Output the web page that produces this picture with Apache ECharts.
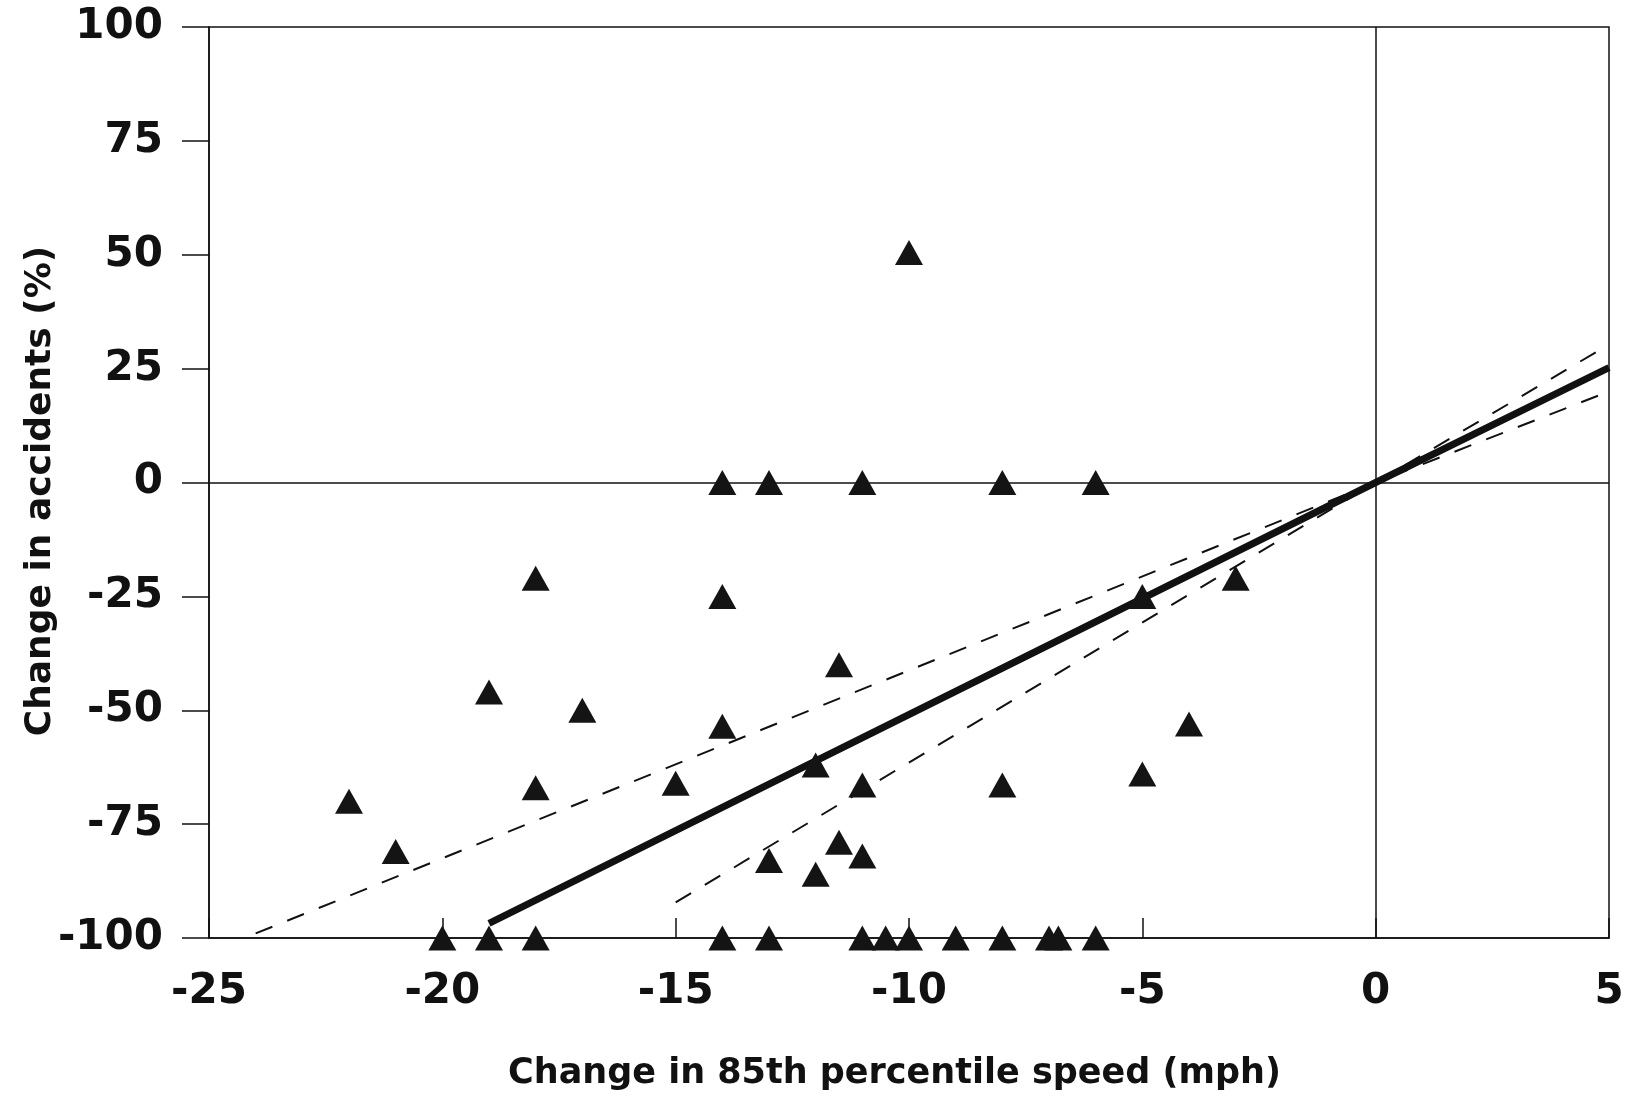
<!DOCTYPE html>
<html>
<head>
<meta charset="utf-8">
<title>Change in accidents vs change in 85th percentile speed</title>
<script src="https://cdn.jsdelivr.net/npm/echarts@6/dist/echarts.min.js"></script>
<style>
  html, body { margin: 0; padding: 0; background: #ffffff; }
  #chart { width: 1633px; height: 1098px; }
</style>
</head>
<body>
<div id="chart"></div>
<script>
// Observed sites: change in 85th percentile speed (mph) vs change in accidents (%)
const speedChange = [
    -14, -13, -11, -8, -6,
    -10,
    -18, -14, -5, -3,
    -11.5, -19, -17, -14, -4,
    -12, -5, -15, -18, -11, -8,
    -22, -11.5, -21, -11, -13, -12,
    -20, -19, -18, -14, -13, -11, -10.5, -10, -9, -8, -7, -6.8, -6
];
const accidentChange = [
    0, 0, 0, 0, 0,
    50.5,
    -21, -25, -25, -21,
    -40, -46, -50, -53.5, -53,
    -62, -64, -66, -67, -66.4, -66.4,
    -70, -79, -81, -82, -83, -86,
    -100, -100, -100, -100, -100, -100, -100, -100, -100, -100, -100, -100, -100
];

// Fitted line and its two bounds
const fitX = [-19, 0, 5];
const fitY = [-96.8, 0, 25.2];
const boundAX = [-24, 0, 5];
const boundAY = [-99, 0, 20];
const boundBX = [-15, 0, 5];
const boundBY = [-92.2, 0, 30.3];

// Axis ticks
const xTicks = [-25, -20, -15, -10, -5, 0, 5];
const yTicks = [-100, -75, -50, -25, 0, 25, 50, 75, 100];

const INK = '#111111';
const FONT = '"DejaVu Sans", "Liberation Sans", sans-serif';

function pairs(xs, ys) {
    return xs.map((x, i) => [x, ys[i]]);
}

const chart = echarts.init(document.getElementById('chart'));

const option = {
    backgroundColor: '#ffffff',
    animation: false,
    grid: {
        left: 209,
        right: 24,
        top: 27,
        bottom: 160,
        containLabel: false,
        outerBoundsMode: 'none',
        show: true,
        borderColor: INK,
        borderWidth: 1.5
    },
    xAxis: {
        type: 'value',
        min: xTicks[0],
        max: xTicks[xTicks.length - 1],
        interval: 5,
        name: 'Change in 85th percentile speed (mph)',
        nameLocation: 'middle',
        nameGap: 118,
        nameMoveOverlap: false,
        nameTextStyle: {
            color: INK,
            fontFamily: FONT,
            fontWeight: 'bold',
            fontSize: 35,
            padding: [0, 29, 0, 0]
        },
        axisLine: { show: true, onZero: false, lineStyle: { color: INK, width: 1.5 } },
        axisTick: { show: true, inside: true, length: 20, lineStyle: { color: INK, width: 1.5 } },
        axisLabel: {
            color: INK,
            fontFamily: FONT,
            fontWeight: 'bold',
            fontSize: 42,
            margin: 33
        },
        splitLine: { show: false }
    },
    yAxis: {
        type: 'value',
        min: yTicks[0],
        max: yTicks[yTicks.length - 1],
        interval: 25,
        name: 'Change in accidents (%)',
        nameLocation: 'middle',
        nameRotate: 90,
        nameGap: 150,
        nameMoveOverlap: false,
        nameTextStyle: {
            color: INK,
            fontFamily: FONT,
            fontWeight: 'bold',
            fontSize: 36,
            padding: [0, 17, 0, 0]
        },
        axisLine: { show: true, onZero: false, lineStyle: { color: INK, width: 1.5 } },
        axisTick: { show: true, inside: false, length: 27, lineStyle: { color: INK, width: 1.5 } },
        axisLabel: {
            color: INK,
            fontFamily: FONT,
            fontWeight: 'bold',
            fontSize: 42,
            margin: 46
        },
        splitLine: { show: false }
    },
    series: [
        {
            // zero reference lines
            type: 'line',
            data: [],
            silent: true,
            markLine: {
                silent: true,
                symbol: 'none',
                label: { show: false },
                lineStyle: { color: INK, width: 1.5, type: 'solid' },
                data: [{ xAxis: 0 }, { yAxis: 0 }]
            }
        },
        {
            name: 'Bound A',
            type: 'line',
            data: pairs(boundAX, boundAY),
            showSymbol: false,
            lineStyle: { color: INK, width: 2, type: [18, 16] },
            z: 3
        },
        {
            name: 'Bound B',
            type: 'line',
            data: pairs(boundBX, boundBY),
            showSymbol: false,
            lineStyle: { color: INK, width: 2, type: [18, 16] },
            z: 3
        },
        {
            name: 'Fit',
            type: 'line',
            data: pairs(fitX, fitY),
            showSymbol: false,
            lineStyle: { color: INK, width: 7 },
            z: 4
        },
        {
            name: 'Sites',
            type: 'scatter',
            data: pairs(speedChange, accidentChange),
            symbol: 'triangle',
            symbolSize: [28, 25],
            itemStyle: { color: '#141414', opacity: 1 },
            z: 5
        }
    ]
};

chart.setOption(option);
</script>
</body>
</html>
